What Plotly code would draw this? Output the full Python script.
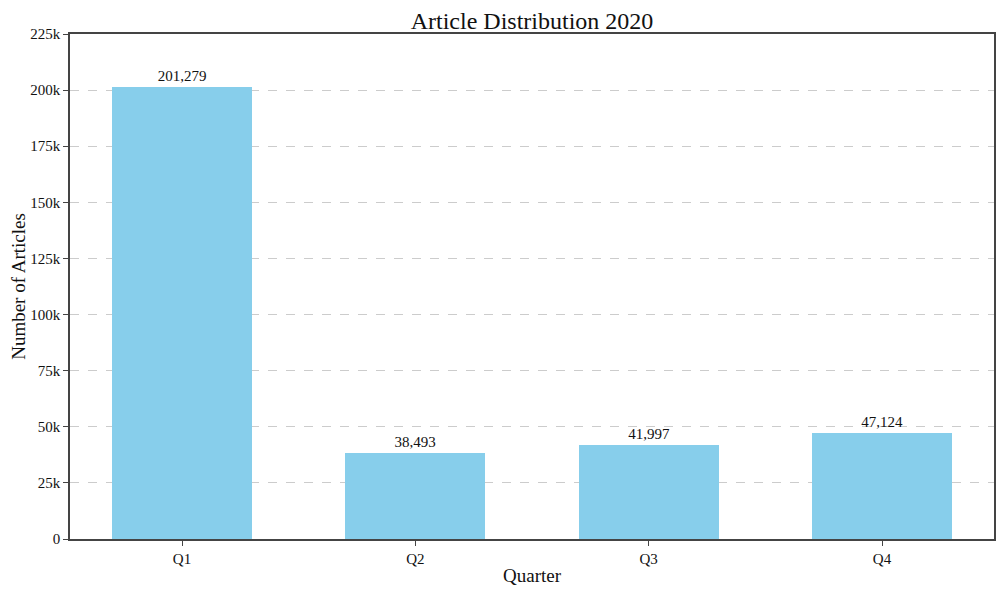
import plotly.graph_objects as go

quarters = ["Q1", "Q2", "Q3", "Q4"]
articles = [201279, 38493, 41997, 47124]
tick_vals = [0, 25000, 50000, 75000, 100000, 125000, 150000, 175000, 200000, 225000]
tick_text = ["0", "25k", "50k", "75k", "100k", "125k", "150k", "175k", "200k", "225k"]

FONT = "Liberation Serif, DejaVu Serif, serif"

fig = go.Figure()
fig.add_trace(go.Bar(
    x=list(range(len(quarters))),
    y=articles,
    width=0.6,
    marker=dict(color="#87CEEB", line=dict(width=0)),
    text=[f"{v:,}" for v in articles],
    textposition="outside",
    textfont=dict(size=15, color="#111111", family=FONT),
    cliponaxis=False,
))

fig.update_layout(
    width=988, height=578,
    margin=dict(l=62, r=2, t=26, b=47, autoexpand=False),
    paper_bgcolor="white", plot_bgcolor="white",
    font=dict(family=FONT, size=15, color="#111111"),
    title=dict(text="Article Distribution 2020", x=0.5, xanchor="center",
               xref="paper", yref="container", y=0.978, yanchor="middle",
               font=dict(size=24, family=FONT)),
    showlegend=False,
    bargap=0,
)
fig.update_xaxes(
    range=[-0.48, 3.48],
    tickvals=list(range(len(quarters))), ticktext=quarters,
    ticks="outside", ticklen=5, tickcolor="#444444",
    showline=True, linecolor="#444444", linewidth=1.5, mirror=True,
    showgrid=False, zeroline=False,
    title=dict(text="Quarter", font=dict(size=19), standoff=8),
    tickfont=dict(size=15),
)
fig.update_yaxes(
    range=[0, 225000],
    tickvals=tick_vals, ticktext=tick_text,
    ticks="outside", ticklen=5, tickcolor="#444444",
    showline=True, linecolor="#444444", linewidth=1.5, mirror=True,
    showgrid=True, gridcolor="#cccccc", griddash="dash", gridwidth=1,
    zeroline=False,
    title=dict(text="Number of Articles", font=dict(size=19), standoff=6),
    tickfont=dict(size=15),
)

fig.write_html("out.html")
